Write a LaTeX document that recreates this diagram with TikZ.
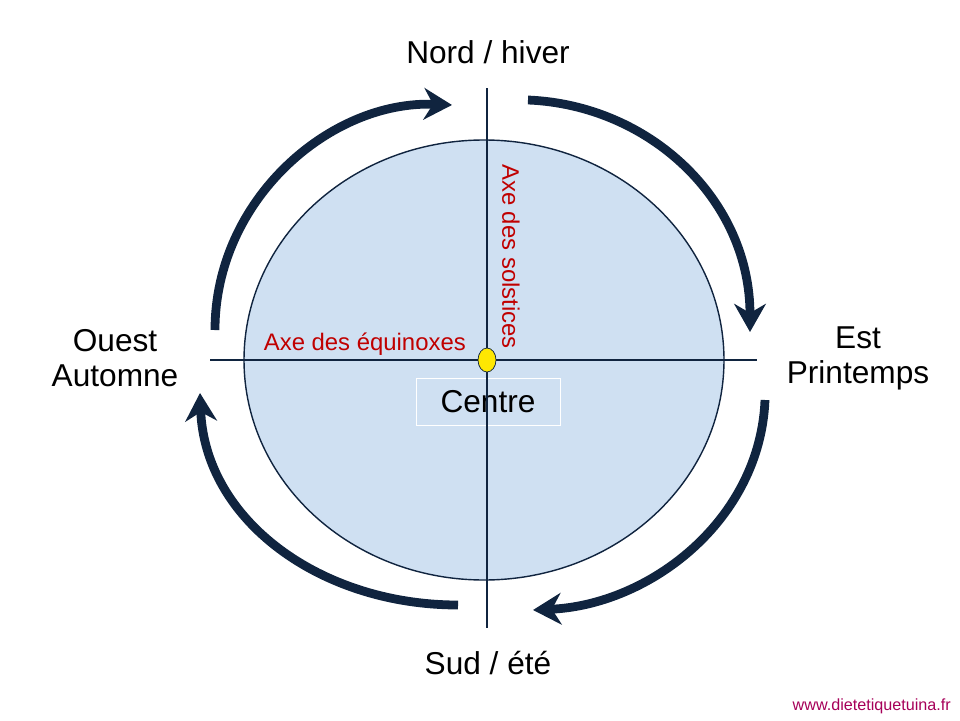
\documentclass[tikz,border=0pt]{standalone}
\usepackage{fontspec}
\setmainfont{Liberation Sans}
\usetikzlibrary{arrows.meta, shapes.geometric}
\definecolor{discfill}{HTML}{CFE0F2}
\definecolor{navy}{HTML}{10243F}
\definecolor{axered}{HTML}{C00000}
\tikzset{
  season/.style = {font=\fontsize{18}{20}\selectfont, align=center},
  axislabel/.style = {font=\fontsize{13.6}{15}\selectfont, text=axered},
  axis/.style = {draw=navy, line width=0.8pt},
  cycle/.style = {draw=navy, line width=5pt, -{Stealth[length=16pt,width=18pt]}}
}
\begin{document}
\begin{tikzpicture}[x=0.02cm, y=-0.02cm]
  \useasboundingbox (0,0) rectangle (960,720);

  % disc and axes
  \draw[navy, line width=0.8pt, fill=discfill] (484,360) ellipse [x radius=240, y radius=220];
  \coordinate (west) at (210,360);
  \coordinate (east) at (757,360);
  \coordinate (north) at (487,88);
  \coordinate (south) at (487,628);
  \draw[axis] (west) -- (east);
  \draw[axis] (north) -- (south);

  \node[draw=white, fill=discfill, minimum width=2.88cm, minimum height=0.94cm,
        font=\fontsize{18}{20}\selectfont] (centre) at (488,402) {Centre};
  \draw[axis] (487,378) -- (487,426);
  \node[draw=navy, fill=yellow!90!orange, ellipse, inner sep=0pt, minimum width=0.36cm, minimum height=0.48cm] (sun) at (487,360) {};

  \node[axislabel, anchor=south east] (equinox) at (472,362) {Axe des équinoxes};
  \node[axislabel, rotate=-90, anchor=south west] (solstice) at (496,158) {Axe des solstices};

  % seasons
  \node[season] (nord) at (488,52) {Nord / hiver};
  \node[season] (sud) at (488,663) {Sud / été};
  \node[season] (ouest) at (115,358) {Ouest\\Automne};
  \node[season] (est) at (858,358) {Est\\Printemps};
  \node[font=\fontsize{9.2}{11}\selectfont, text=violet!70!red, anchor=east] (site) at (957,706) {www.dietetiquetuina.fr};

  % cycle arrows
  \coordinate (a1) at (215,330); \coordinate (b1) at (452,105);
  \coordinate (a2) at (528,100); \coordinate (b2) at (750,332);
  \coordinate (a3) at (765,400); \coordinate (b3) at (533,610);
  \coordinate (a4) at (458,605); \coordinate (b4) at (200,393);
  \draw[cycle] (a1) .. controls (215,200) and (330,100) .. (b1);
  \draw[cycle] (a2) .. controls (650,105) and (750,200) .. (b2);
  \draw[cycle] (a3) .. controls (760,520) and (650,605) .. (b3);
  \draw[cycle] (a4) .. controls (320,605) and (205,520) .. (b4);
\end{tikzpicture}
\end{document}
